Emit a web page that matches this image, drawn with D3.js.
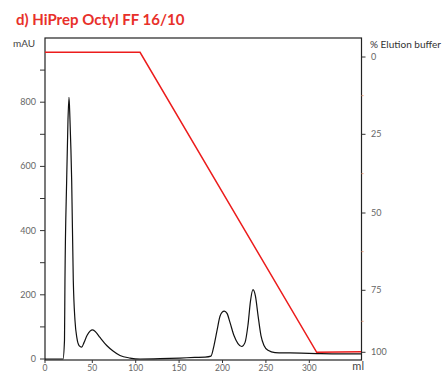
<!DOCTYPE html>
<html>
<head>
<meta charset="utf-8">
<script src="https://cdn.jsdelivr.net/npm/d3@7"></script>
<style>
  body { margin: 0; background: #fff; }
  svg { display: block; font-family: Lato, "Liberation Sans", sans-serif; }
</style>
</head>
<body>
<div id="chart"></div>
<script>
// UV trace (mAU) vs volume (ml)
const volume = [0, 19, 20.6, 21.1, 22.9, 24.3, 25.4, 26.4, 28.2, 29.9, 31.7, 33.8, 36, 38.8, 41.2, 44.4, 47.6, 50.5, 54.3, 58.9, 66.6, 73.9, 81.9, 93.4, 105, 128, 151, 168, 180, 186.7, 190.2, 193.7, 197.1, 199.4, 202.1, 205.2, 208.6, 213.2, 217.8, 222.1, 225.9, 229.3, 232.3, 235.1, 238, 240.9, 244.3, 247.8, 252.4, 260.5, 277.8, 308.9, 335.4, 359.6]
const mAU = [0, 0, 58, 245, 557, 745, 815, 745, 557, 245, 120, 64, 42, 37, 51, 73, 87, 91, 83, 67, 42, 25, 11, 3, 0, 1, 3, 5, 6, 9, 42, 89, 133, 145, 149, 142, 114, 73, 48, 39, 51, 105, 182, 216, 195, 136, 73, 42, 27, 20, 19, 17, 16, 16]

// gradient (% elution buffer)
const gradVolume = [0, 105, 308.5, 359.6]
const gradPct = [-1.5, -1.5, 100, 99.8]

const xTicks = [0, 50, 100, 150, 200, 250, 300]
const yTicks = [0, 200, 400, 600, 800]
const yMinor = [100, 300, 500, 700, 900]
const rTicks = [0, 25, 50, 75, 100]
const rMinor = [12.5, 37.5, 62.5, 87.5]

const width = 443, height = 372
const plotLeft = 45, plotRight = 361.5, plotTop = 38, plotBottom = 360

const svg = d3.select("#chart").append("svg")
  .attr("width", width)
  .attr("height", height)

// the original's tick spacing is a little uneven, so piecewise scales
const x = d3.scaleLinear().domain([0, 50, 360]).range([45, 92.3, 361.4])
const y = d3.scaleLinear().domain([0, 1000]).range([359, 38])
const yr = d3.scaleLinear().domain([0, 25, 50, 75, 100]).range([57, 134.3, 213, 290.3, 352.3])

svg.append("text")
  .attr("x", 16).attr("y", 25)
  .attr("fill", "#e8302a")
  .attr("font-size", 15)
  .attr("font-weight", "bold")
  .text("d) HiPrep Octyl FF 16/10")

// frame
svg.append("rect")
  .attr("x", plotLeft).attr("y", plotTop)
  .attr("width", plotRight - plotLeft).attr("height", plotBottom - plotTop)
  .attr("fill", "none")
  .attr("stroke", "#222")
  .attr("stroke-width", 1.2)

const labelColor = "#666"

// left axis
svg.selectAll(".ytick").data(yTicks.concat(yMinor)).join("line")
  .attr("x1", plotLeft - 5).attr("x2", plotLeft)
  .attr("y1", d => y(d)).attr("y2", d => y(d))
  .attr("stroke", "#333")
svg.selectAll(".ylab").data(yTicks).join("text")
  .attr("x", 36).attr("y", d => y(d) + 3)
  .attr("text-anchor", "end")
  .attr("font-size", 9)
  .attr("fill", labelColor)
  .text(d => d)
svg.append("text")
  .attr("x", 13).attr("y", 47)
  .attr("font-size", 10)
  .attr("fill", "#444")
  .text("mAU")

// bottom axis
svg.selectAll(".xtick").data(xTicks).join("line")
  .attr("x1", d => x(d)).attr("x2", d => x(d))
  .attr("y1", plotBottom).attr("y2", plotBottom + 3)
  .attr("stroke", "#333")
svg.selectAll(".xlab").data(xTicks).join("text")
  .attr("x", d => x(d)).attr("y", 371)
  .attr("text-anchor", "middle")
  .attr("font-size", 8.5)
  .attr("fill", labelColor)
  .text(d => d)
svg.append("text")
  .attr("x", 364).attr("y", 370)
  .attr("text-anchor", "end")
  .attr("font-size", 11)
  .attr("fill", "#444")
  .text("ml")

// right axis
svg.selectAll(".rtick").data(rTicks).join("line")
  .attr("x1", plotRight).attr("x2", plotRight + 4)
  .attr("y1", d => yr(d)).attr("y2", d => yr(d))
  .attr("stroke", "#333")
svg.selectAll(".rminor").data(rMinor).join("line")
  .attr("x1", plotRight).attr("x2", plotRight + 2)
  .attr("y1", d => yr(d)).attr("y2", d => yr(d))
  .attr("stroke", "#e8a080")
svg.selectAll(".rlab").data(rTicks).join("text")
  .attr("x", 371).attr("y", d => yr(d) + 3)
  .attr("font-size", 9)
  .attr("fill", labelColor)
  .text(d => d)
svg.append("text")
  .attr("x", 370).attr("y", 48)
  .attr("font-size", 10)
  .attr("fill", "#333")
  .attr("textLength", 71)
  .attr("lengthAdjust", "spacingAndGlyphs")
  .text("% Elution buffer")

// UV trace
const uv = volume.map((v, i) => [v, mAU[i]])
svg.append("path")
  .datum(uv)
  .attr("fill", "none")
  .attr("stroke", "#111")
  .attr("stroke-width", 1.2)
  .attr("d", d3.line().x(d => x(d[0])).y(d => y(d[1])).curve(d3.curveMonotoneX))

// gradient
const grad = gradVolume.map((v, i) => [v, gradPct[i]])
svg.append("path")
  .datum(grad)
  .attr("fill", "none")
  .attr("stroke", "#ec1c1c")
  .attr("stroke-width", 1.5)
  .attr("d", d3.line().x(d => x(d[0])).y(d => yr(d[1])))
</script>
</body>
</html>
